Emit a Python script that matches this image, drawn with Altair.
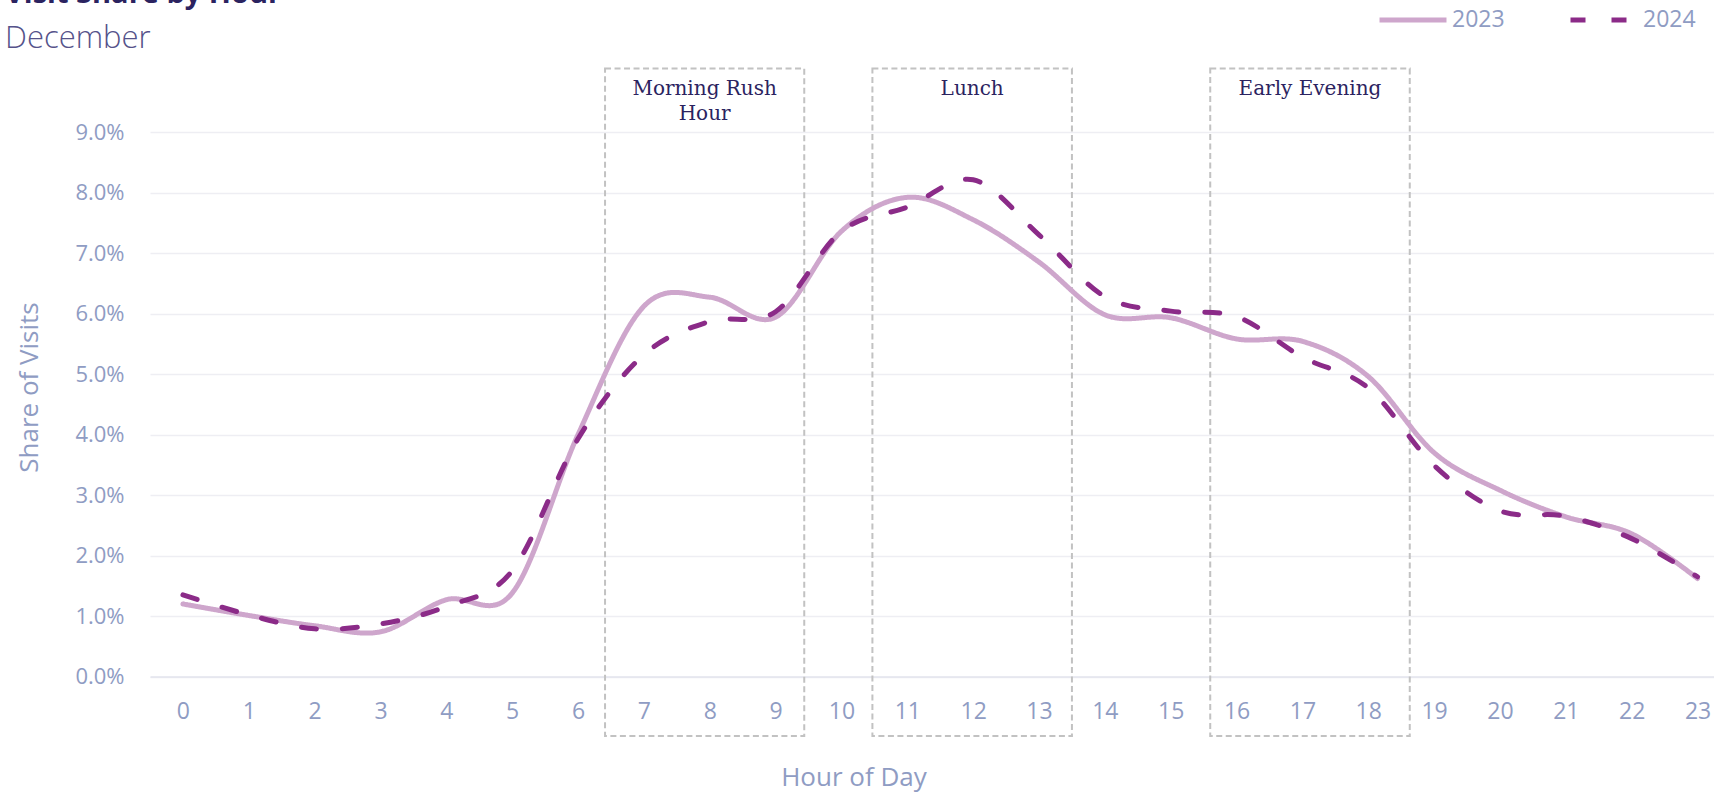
import altair as alt
import pandas as pd

# ---- data ----
hours = list(range(24))
share_2023 = [1.20, 1.01, 0.84, 0.74, 1.27, 1.38, 4.00, 6.12, 6.27, 5.94, 7.36, 7.92,
              7.55, 6.85, 5.98, 5.93, 5.58, 5.54, 4.96, 3.70, 3.08, 2.64, 2.36, 1.62]
share_2024 = [1.35, 1.02, 0.79, 0.87, 1.16, 1.75, 3.93, 5.32, 5.87, 6.03, 7.36, 7.76,
              8.21, 7.30, 6.28, 6.04, 5.95, 5.28, 4.77, 3.49, 2.74, 2.65, 2.28, 1.65]
years = ["2023", "2024"]

period_names = ["Morning Rush\nHour", "Lunch", "Early Evening"]
period_start = [6.41, 10.47, 15.60]
period_end = [9.435, 13.50, 18.63]
box_top = 10.05
box_bottom = -0.98
label_level = 9.605

y_ticks = [0, 1, 2, 3, 4, 5, 6, 7, 8, 9]

# ---- tables ----
lines_df = pd.DataFrame({
    "hour": hours * 2,
    "share": share_2023 + share_2024,
    "year": [years[0]] * 24 + [years[1]] * 24,
})
boxes_df = pd.DataFrame({
    "name": period_names,
    "start": period_start,
    "end": period_end,
    "top": [box_top] * 3,
    "bottom": [box_bottom] * 3,
    "mid": [(a + b) / 2 for a, b in zip(period_start, period_end)],
    "ly": [label_level] * 3,
})

SANS = "Open Sans"
AXIS_GREY = "#8f9cc3"
NAVY = "#2b2360"

x_scale = alt.Scale(domain=[-0.5, 23.25], nice=False, zero=False)
y_scale = alt.Scale(domain=[0, 9], nice=False, zero=False)

x_axis = alt.Axis(
    values=hours, format="d", grid=False, ticks=False, tickSize=0,
    domain=True, domainColor="#e3e5ee", domainWidth=1.5,
    labelFont=SANS, labelFontSize=23, labelColor=AXIS_GREY, labelPadding=24,
    title="Hour of Day", titleFont=SANS, titleFontSize=26, titleFontWeight="normal",
    titleColor=AXIS_GREY, titleX=703.5, titleY=109, titleBaseline="alphabetic",
    titleAlign="center",
)
y_axis = alt.Axis(
    values=y_ticks, labelExpr="format(datum.value, '.1f') + '%'",
    grid=True, gridColor="#eeeef3", gridWidth=1.5, ticks=False, tickSize=0,
    domain=False,
    labelFont=SANS, labelFontSize=22, labelColor=AXIS_GREY, labelPadding=26,
    title="Share of Visits", titleFont=SANS, titleFontSize=26, titleFontWeight="normal",
    titleColor=AXIS_GREY, titleX=-120.5, titleY=255, titleAngle=270,
    titleBaseline="middle", titleAlign="center",
)

legend = alt.Legend(
    title=None, orient="none", legendX=1227, legendY=-148,
    direction="horizontal", symbolType="stroke", symbolSize=4489,
    symbolStrokeWidth=5, labelFont=SANS, labelFontSize=23,
    labelColor=AXIS_GREY, labelOffset=3, columnPadding=55, padding=0,
)

boxes = alt.Chart(boxes_df).mark_rect(
    fill=None, fillOpacity=0, stroke="#c2c2c2", strokeWidth=2, strokeDash=[6, 3.5]
).encode(
    x=alt.X("start:Q", scale=x_scale, axis=x_axis),
    x2="end:Q",
    y=alt.Y("bottom:Q", scale=y_scale, axis=y_axis),
    y2="top:Q",
)

box_labels = alt.Chart(boxes_df).mark_text(
    font="DejaVu Serif", fontSize=20, color=NAVY, align="center",
    baseline="alphabetic", lineBreak="\n", lineHeight=24.5,
).encode(
    x=alt.X("mid:Q", scale=x_scale, axis=x_axis),
    y=alt.Y("ly:Q", scale=y_scale, axis=y_axis),
    text="name:N",
)

lines = alt.Chart(lines_df).mark_line(
    interpolate="cardinal", strokeWidth=5, strokeCap="round", strokeJoin="round"
).encode(
    x=alt.X("hour:Q", scale=x_scale, axis=x_axis),
    y=alt.Y("share:Q", scale=y_scale, axis=y_axis),
    color=alt.Color(
        "year:N",
        scale=alt.Scale(domain=years, range=["#cea6cc", "#8b2b88"]),
        legend=legend,
    ),
    strokeDash=alt.StrokeDash(
        "year:N",
        scale=alt.Scale(domain=years, range=[[1, 0], [15, 26]]),
        legend=legend,
    ),
    order="year:N",
)

chart = alt.layer(boxes, lines, box_labels).properties(
    width=1564,
    height=544.6,
    background="white",
    autosize=alt.AutoSizeParams(type="none"),
    padding={"left": 150, "top": 132, "right": 0, "bottom": 117.4},
    title=alt.TitleParams(
        text="Visit Share by Hour",
        subtitle="December",
        anchor="start",
        frame="group",
        dx=-145,
        dy=73.5,
        font=SANS,
        fontSize=29,
        fontWeight="bold",
        color=NAVY,
        subtitleFont=SANS,
        subtitleFontSize=31,
        subtitleFontWeight=300,
        subtitleColor="#55528a",
        subtitlePadding=14.5,
    ),
).configure_view(stroke=None)

chart.save("out.html", embed_options={"renderer": "svg", "actions": False})
